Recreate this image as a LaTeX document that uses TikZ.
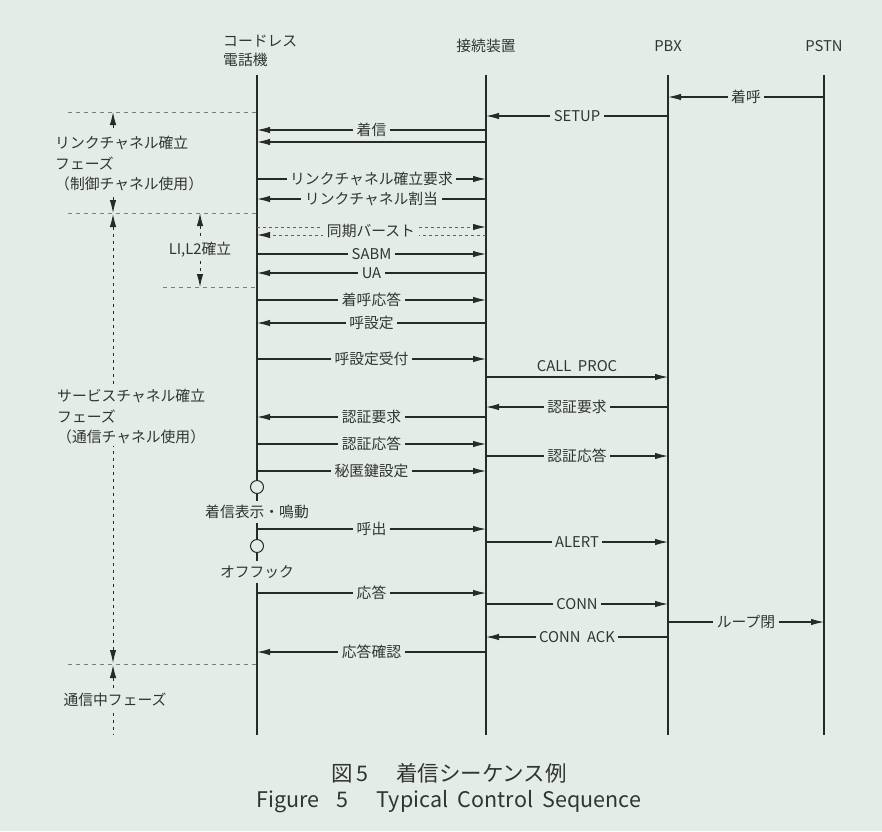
\documentclass[tikz,border=0pt]{standalone}
\usepackage{fontspec}
\setmainfont{Noto Sans CJK JP}
\usetikzlibrary{arrows.meta,calc}
\definecolor{bg}{RGB}{227,236,231}
\definecolor{ink}{RGB}{40,42,40}
\definecolor{txt}{RGB}{50,52,50}
\newcommand\lblfont{\fontsize{14.8}{17}\selectfont}
\newcommand\phfont{\fontsize{14.8}{20.5}\selectfont}
\newcommand\capfont{\fontsize{21.5}{24}\selectfont}
\begin{document}
\begin{tikzpicture}[x=1pt,y=-1pt,
  life/.style={line width=1.1pt, draw=ink},
  msg/.style={line width=1.1pt, draw=ink, -{Latex[length=13pt,width=6.5pt]}},
  dline/.style={line width=0.9pt, draw=ink!75, dash pattern=on 3pt off 3pt},
  lbl/.style={fill=bg, inner sep=3.5pt, text=txt, font=\lblfont},
  hdr/.style={text=txt, font=\lblfont, inner sep=1pt},
  phase/.style={draw=ink!60, line width=0.8pt, dash pattern=on 4pt off 4pt},
  vdot/.style={draw=ink, line width=1pt, dash pattern=on 3pt off 4pt},
  tipu/.style={line width=1pt, draw=ink, -{Latex[length=13pt,width=6.5pt]}},
  phtext/.style={fill=bg, text=txt, font=\phfont, align=left, inner sep=2pt},
  ring/.style={circle, draw=ink, line width=1pt, fill=bg, minimum size=13pt, inner sep=0pt},
]
\fill[bg] (0,0) rectangle (882,831);
\useasboundingbox (0,0) rectangle (882,831);

% headers
\node[hdr, anchor=west, align=left, font=\fontsize{14.8}{19}\selectfont] (hA) at (222,51) {コードレス\\電話機};
\node[hdr] (hB) at (486,46) {接続装置};
\node[hdr] (hC) at (668,46) {PBX};
\node[hdr] (hD) at (824,46) {PSTN};

% lifelines
\coordinate (tA) at (257,75); \coordinate (bA) at (257,735);
\coordinate (tB) at (486,75); \coordinate (bB) at (486,735);
\coordinate (tC) at (668,75); \coordinate (bC) at (668,735);
\coordinate (tD) at (824,75); \coordinate (bD) at (824,735);
\draw[life] (tA) -- (bA);
\draw[life] (tB) -- (bB);
\draw[life] (tC) -- (bC);
\draw[life] (tD) -- (bD);

% messages
\draw[msg] (tD |- 0,97) -- (tC |- 0,97) node[lbl, midway] (m1) {着呼};
\draw[msg] (tC |- 0,116) -- (tB |- 0,116) node[lbl, midway] (m2) {SETUP};
\draw[msg] (tB |- 0,130) -- (tA |- 0,130) node[lbl, midway] (m3) {着信};
\draw[msg] (tB |- 0,142) -- (tA |- 0,142);
\draw[msg] (tA |- 0,179) -- (tB |- 0,179) node[lbl, midway] (m5) {リンクチャネル確立要求};
\draw[msg] (tB |- 0,199) -- (tA |- 0,199) node[lbl, midway] (m6) {リンクチャネル割当};
\coordinate (sy1a) at (tA |- 0,227); \coordinate (sy1b) at (tB |- 0,227);
\coordinate (sy2a) at (tB |- 0,235); \coordinate (sy2b) at (tA |- 0,235);
\draw[dline] (sy1a) -- ($(sy1b)+(-12,0)$);
\draw[msg] ($(sy1b)+(-13,0)$) -- (sy1b);
\draw[dline] (sy2a) -- ($(sy2b)+(12,0)$);
\draw[msg] ($(sy2b)+(13,0)$) -- (sy2b);
\node[lbl] (m7) at (371,231) {同期バースト};
\draw[msg] (tA |- 0,254) -- (tB |- 0,254) node[lbl, midway] (m9) {SABM};
\draw[msg] (tB |- 0,273) -- (tA |- 0,273) node[lbl, midway] (m10) {UA};
\draw[msg] (tA |- 0,300) -- (tB |- 0,300) node[lbl, midway] (m11) {着呼応答};
\draw[msg] (tB |- 0,323) -- (tA |- 0,323) node[lbl, midway] (m12) {呼設定};
\draw[msg] (tA |- 0,359) -- (tB |- 0,359) node[lbl, midway] (m13) {呼設定受付};
\draw[msg] (tB |- 0,377) -- (tC |- 0,377) node[hdr, midway, above=4pt] (m14) {CALL\ \ PROC};
\draw[msg] (tC |- 0,407) -- (tB |- 0,407) node[lbl, midway] (m15) {認証要求};
\draw[msg] (tB |- 0,417) -- (tA |- 0,417) node[lbl, midway] (m16) {認証要求};
\draw[msg] (tA |- 0,444) -- (tB |- 0,444) node[lbl, midway] (m17) {認証応答};
\draw[msg] (tB |- 0,456) -- (tC |- 0,456) node[lbl, midway] (m18) {認証応答};
\draw[msg] (tA |- 0,471) -- (tB |- 0,471) node[lbl, midway] (m19) {秘匿鍵設定};
\node[ring] (r1) at (tA |- 0,487) {};
\node[lbl, inner ysep=4pt] (e1) at (257,512) {着信表示・鳴動};
\draw[msg] (tA |- 0,529) -- (tB |- 0,529) node[lbl, midway] (m20) {呼出};
\draw[msg] (tB |- 0,542) -- (tC |- 0,542) node[lbl, midway] (m21) {ALERT};
\node[ring] (r2) at (tA |- 0,546) {};
\node[lbl, inner ysep=4pt] (e2) at (257,572) {オフフック};
\draw[msg] (tA |- 0,593) -- (tB |- 0,593) node[lbl, midway] (m22) {応答};
\draw[msg] (tB |- 0,604) -- (tC |- 0,604) node[lbl, midway] (m23) {CONN};
\draw[msg] (tC |- 0,622) -- (tD |- 0,622) node[lbl, midway] (m24) {ループ閉};
\draw[msg] (tC |- 0,637) -- (tB |- 0,637) node[lbl, midway] (m25) {CONN\ \ ACK};
\draw[msg] (tB |- 0,652) -- (tA |- 0,652) node[lbl, midway] (m26) {応答確認};

% phase boundaries
\coordinate (p1) at (68,112);
\coordinate (p2) at (68,213);
\coordinate (p3) at (163,287);
\coordinate (p4) at (68,664);
\draw[phase] (p1) -- (tA |- p1);
\draw[phase] (p2) -- (tA |- p2);
\draw[phase] (p3) -- (tA |- p3);
\draw[phase] (p4) -- (tA |- p4);

% link channel phase
\coordinate (a1) at (113,128); \coordinate (a1t) at (113,112);
\coordinate (a2) at (113,197); \coordinate (a2t) at (113,213);
\draw[tipu] (a1) -- (a1t);
\draw[tipu] (a2) -- (a2t);
\node[phtext, anchor=north west, fill=none] (ph1) at (53,134) {リンクチャネル確立\\フェーズ\\（制御チャネル使用）};

% service channel phase
\coordinate (s1) at (113,214); \coordinate (s2) at (113,663);
\draw[vdot, {Latex[length=13pt,width=6.5pt]}-{Latex[length=13pt,width=6.5pt]}] (s1) -- (s2);
\node[phtext, anchor=north west] (ph2) at (55,387) {サービスチャネル確立\\フェーズ\\（通信チャネル使用）};

% communication phase
\coordinate (c1) at (113,665); \coordinate (c2) at (113,735);
\draw[vdot, {Latex[length=13pt,width=6.5pt]}-] (c1) -- (c2);
\node[phtext] (ph3) at (115,700) {通信中フェーズ};

% L1,L2
\coordinate (l1) at (200,213); \coordinate (l2) at (200,287);
\draw[vdot, {Latex[length=13pt,width=6.5pt]}-{Latex[length=13pt,width=6.5pt]}] (l1) -- (l2);
\node[phtext, inner sep=3pt] (ph4) at (200,250) {LI,L2確立};

% caption
\node[text=txt, font=\capfont] (cap1) at (449,773) {図\,5\hspace{1.3em}着信シーケンス例};
\node[text=txt, font=\capfont] (cap2) at (449,802) {Figure\hspace{0.8em}5\hspace{1.3em}Typical\ \ Control\ \ Sequence};
\end{tikzpicture}
\end{document}
